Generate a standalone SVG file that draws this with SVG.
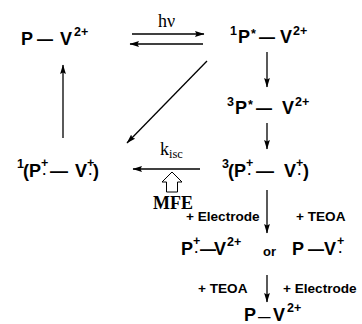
<svg xmlns="http://www.w3.org/2000/svg" width="362" height="324" viewBox="0 0 362 324">
<defs>
<marker id="ah" markerUnits="userSpaceOnUse" markerWidth="10" markerHeight="7" refX="9" refY="3.5" orient="auto">
<path d="M0,0.6 L9.5,3.5 L0,6.4 L1.5,3.5 z" fill="#000"/>
</marker>
</defs>
<style>
text{fill:#000}
.m{font-family:"Liberation Sans",Arial,sans-serif;font-weight:bold;font-size:18px}
.s{font-size:12.5px}
.d{font-size:16px}
.t{font-family:"Liberation Sans",Arial,sans-serif;font-weight:bold;font-size:13.6px}
.o{font-size:13px}
.r{font-family:"Liberation Serif","Times New Roman",serif;font-size:18px}
.con line{stroke:#000;stroke-width:1.3;fill:none;marker-end:url(#ah)}
</style>
<rect width="362" height="324" fill="#fff"/>

<g id="node-pv-ground">
<text class="m"><tspan x="21" y="45">P</tspan><tspan class="d" x="37" y="45">—</tspan><tspan x="60" y="45">V</tspan><tspan class="s" x="74" y="36">2+</tspan></text>
</g>

<g id="node-1p-star">
<text class="m"><tspan class="s" x="230" y="35">1</tspan><tspan x="238" y="43">P</tspan><tspan class="s" x="251" y="38">*</tspan><tspan class="d" x="259" y="43">—</tspan><tspan x="280" y="43">V</tspan><tspan class="s" x="293" y="35">2+</tspan></text>
</g>

<g id="node-3p-star">
<text class="m"><tspan class="s" x="227" y="106">3</tspan><tspan x="235" y="114">P</tspan><tspan class="s" x="248" y="109">*</tspan><tspan class="d" x="256" y="114">—</tspan><tspan x="282" y="114">V</tspan><tspan class="s" x="295" y="106">2+</tspan></text>
</g>

<g id="node-1-radical-pair">
<text class="m"><tspan class="s" x="17" y="168">1</tspan><tspan x="23" y="177">(</tspan><tspan x="29" y="177">P</tspan><tspan class="s" x="41" y="167">+</tspan><tspan class="s" x="42.5" y="175">.</tspan><tspan x="50" y="177">—</tspan><tspan x="75" y="177">V</tspan><tspan class="s" x="87" y="167">+</tspan><tspan class="s" x="88.5" y="175">.</tspan><tspan x="93" y="177">)</tspan></text>
</g>

<g id="node-3-radical-pair">
<text class="m"><tspan class="s" x="222" y="168">3</tspan><tspan x="228" y="177">(</tspan><tspan x="234" y="177">P</tspan><tspan class="s" x="246" y="167">+</tspan><tspan class="s" x="247.5" y="175">.</tspan><tspan x="256" y="177">—</tspan><tspan x="284" y="177">V</tspan><tspan class="s" x="296" y="167">+</tspan><tspan class="s" x="297.5" y="175">.</tspan><tspan x="303" y="177">)</tspan></text>
</g>

<g id="node-products">
<text class="m"><tspan x="181" y="255">P</tspan><tspan class="s" x="193" y="245">+</tspan><tspan class="s" x="194.5" y="253">.</tspan><tspan class="d" x="200" y="255">—</tspan><tspan x="214" y="255">V</tspan><tspan class="s" x="227" y="246">2+</tspan><tspan class="o" x="263" y="256">or</tspan><tspan x="292" y="255">P</tspan><tspan class="d" x="308" y="255">—</tspan><tspan x="324" y="255">V</tspan><tspan class="s" x="337" y="245">+</tspan><tspan class="s" x="338.5" y="253">.</tspan></text>
</g>

<g id="node-pv-final">
<text class="m"><tspan x="244" y="321">P</tspan><tspan class="s" x="258" y="321">—</tspan><tspan x="273" y="321">V</tspan><tspan class="s" x="287" y="312">2+</tspan></text>
</g>

<g id="labels">
<text class="r" x="158" y="27">hν</text>
<text class="r" x="160" y="155">k<tspan font-size="12.5" dy="3">isc</tspan></text>
<text class="r" x="153" y="209" font-weight="bold" font-size="16.5">MFE</text>
<text class="t" x="186" y="221">+ Electrode</text>
<text class="t" x="296" y="221">+ TEOA</text>
<text class="t" x="198" y="293">+ TEOA</text>
<text class="t" x="283" y="293">+ Electrode</text>
</g>

<g id="mfe-arrow">
<polygon points="172,172 182,182 177.5,182 177.5,192 166.5,192 166.5,182 162,182" fill="#fff" stroke="#000" stroke-width="1"/>
</g>

<g class="con" id="connectors">
<line x1="132" y1="34" x2="204" y2="34"/>
<line x1="203" y1="44" x2="130" y2="44"/>
<line x1="267" y1="52" x2="267" y2="87"/>
<line x1="207" y1="61" x2="127" y2="143"/>
<line x1="267" y1="123" x2="267" y2="149"/>
<line x1="200" y1="169" x2="133" y2="169"/>
<line x1="63" y1="138" x2="63" y2="65"/>
<line x1="267" y1="190" x2="267" y2="233"/>
<line x1="267" y1="275" x2="267" y2="302"/>
</g>
</svg>
